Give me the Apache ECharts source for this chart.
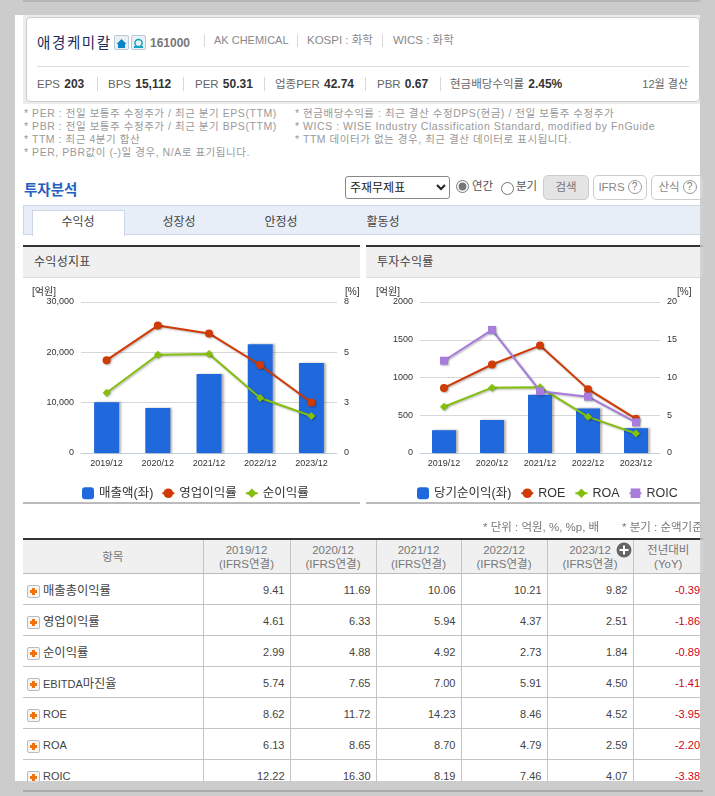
<!DOCTYPE html>
<html lang="ko">
<head>
<meta charset="utf-8">
<title>애경케미칼</title>
<script src="https://cdn.jsdelivr.net/npm/echarts@6/dist/echarts.min.js"></script>
<style>
html,body{margin:0;padding:0;width:715px;height:796px;overflow:hidden;background:#ccc;
  font-family:"Liberation Sans","Noto Sans CJK KR",sans-serif;color:#333}
.a{position:absolute;white-space:nowrap}
.sep{position:absolute;width:1px;background:#d8d8d8}
.k{position:absolute;white-space:nowrap;font-size:11.5px;color:#666;line-height:14px}
.k b{color:#333;font-size:12px;margin-left:1px}
.note{position:absolute;white-space:nowrap;font-size:10.5px;color:#999;line-height:13px;letter-spacing:.55px}
.tab{position:absolute;top:215px;font-size:12px;line-height:14px;width:92px;text-align:center;color:#444}
.phead{position:absolute;top:245px;height:30px;background:#f0f0f0;border-top:2px solid #333;border-bottom:1px solid #ddd}
.phead span{position:absolute;left:11px;top:8px;font-size:12px;letter-spacing:.3px;color:#444;line-height:14px}
.pfoot{position:absolute;top:502px;height:2px;background:#bbb}
.btn{position:absolute;top:175px;height:23px;border:1px solid #ccc;border-radius:5px;background:#fff;
  font-size:11.5px;line-height:23px;color:#888;box-sizing:content-box}
.q{display:inline-block;width:12px;height:12px;line-height:12px;border:1px solid #999;border-radius:50%;
  font-size:10px;text-align:center;color:#777;margin-left:3px;vertical-align:1px}
#tbl{position:absolute;left:23px;top:538px;width:680px;border-collapse:collapse;table-layout:fixed;border-top:2px solid #333;font-size:11px}
#tbl th{height:33px;padding:0;background:#f0f0f0;font-weight:normal;font-size:11.5px;line-height:14px;color:#777;
  border-right:1px solid #c4c4c4;border-bottom:1px solid #bbb;position:relative}
#tbl td{height:30px;padding:2px 5px 0 0;box-sizing:border-box;height:31px;text-align:right;color:#444;border-right:1px solid #c4c4c4;border-bottom:1px solid #c4c4c4}
#tbl th:last-child,#tbl td:last-child{border-right:none}
#tbl td.name{text-align:left;padding-left:20px;position:relative;color:#444}
#tbl td.name span.h{font-size:12.3px}
#tbl td.yoy{color:#d0021b;padding-right:3px}
.plus{position:absolute;left:4px;top:11px;width:11px;height:11px;border:1px solid #bbb;border-radius:2px;background:#f6f6f6}
.plus:before{content:"";position:absolute;left:4px;top:2px;width:3px;height:7px;background:#f0720f}
.plus:after{content:"";position:absolute;left:2px;top:4px;width:7px;height:3px;background:#f0720f}
.ico{position:absolute;top:35px;width:13px;height:13px;border:1px solid #bcc8d4;border-radius:2px;background:#eaf1f6}
</style>
</head>
<body>
<div class="a" style="left:23px;top:0;width:680px;height:2px;background:#b5b5b5"></div>
<div class="a" style="left:15px;top:15px;width:685px;height:766px;background:#fff"></div>

<!-- 기업 개요 -->
<div class="a" style="left:23px;top:15px;width:677px;height:89px;background:#ececec"></div>
<div class="a" style="left:26px;top:17px;width:672px;height:83px;background:#fff;border:1px solid #ccc;border-radius:4px"></div>
<div class="a" style="left:37px;top:34px;font-size:14.5px;line-height:18px;color:#1c2a5c;letter-spacing:1.6px">애경케미칼</div>
<div class="ico" style="left:114px"><svg width="13" height="13" viewBox="0 0 13 13"><path d="M6.5 2 1.5 7H3v4h7V7h1.500z" fill="#0b83c9"/></svg></div>
<div class="ico" style="left:131px"><svg width="13" height="13" viewBox="0 0 13 13"><circle cx="6.5" cy="6" r="3.600" fill="none" stroke="#17a3c4" stroke-width="1.500"/><rect x="2" y="9" width="9" height="2" fill="#17a3c4"/></svg></div>
<div class="a" style="left:150px;top:36px;font-size:12px;font-weight:bold;line-height:14px;color:#777">161000</div>
<div class="sep" style="left:204px;top:34px;height:13px"></div>
<div class="k" style="left:214px;top:33px;color:#888;font-size:11px">AK CHEMICAL</div>
<div class="sep" style="left:297px;top:34px;height:13px"></div>
<div class="k" style="left:307px;top:33px;color:#888">KOSPI : 화학</div>
<div class="sep" style="left:382px;top:34px;height:13px"></div>
<div class="k" style="left:393px;top:33px;color:#888">WICS : 화학</div>
<div class="a" style="left:37px;top:66px;width:652px;height:1px;background:#ddd"></div>
<div id="kpis"></div>
<div class="k" style="right:27px;top:77px;font-size:11px">12월 결산</div>

<!-- 주석 -->
<div id="notes"></div>

<!-- 투자분석 -->
<div class="a" style="left:24px;top:181px;font-size:14.5px;line-height:18px;font-weight:bold;color:#2560c0">투자분석</div>
<select class="a" style="left:345px;top:176px;width:105px;height:23px;font-size:12px;font-family:inherit;background:#fff;border:1px solid #888;border-radius:3px;color:#222"><option>주재무제표</option></select>
<input class="a" type="radio" name="term" checked style="left:456px;top:180px;margin:0;width:13px;height:13px;accent-color:#777">
<div class="a" style="left:472px;top:179px;font-size:11.5px;line-height:14px;color:#555">연간</div>
<input class="a" type="radio" name="term" style="left:501px;top:182px;margin:0;width:13px;height:13px">
<div class="a" style="left:516px;top:179px;font-size:11.5px;line-height:14px;color:#555">분기</div>
<div class="btn" style="left:543px;width:44px;text-align:center;background:#e4e4e4;border-color:#ccc;color:#777">검색</div>
<div class="btn" style="left:593px;width:52px;text-align:center">IFRS<span class="q">?</span></div>
<div class="btn" style="left:651px;width:51px;text-align:center">산식<span class="q">?</span></div>

<div class="a" style="left:23px;top:205px;width:678px;height:28px;background:#e8eef8;border:1px solid #cdd6e6"></div>
<div class="a" style="left:32px;top:210px;width:91px;height:25px;background:#fff;border:1px solid #cdd6e6;border-bottom:none"></div>
<div id="tabs"></div>

<!-- 차트 -->
<div class="phead" style="left:23px;width:337px"><span>수익성지표</span></div>
<div class="phead" style="left:366px;width:337px"><span>투자수익률</span></div>
<div id="chart1" class="a" style="left:15px;top:276px;width:350px;height:226px"></div>
<div id="chart2" class="a" style="left:360px;top:276px;width:345px;height:226px"></div>
<div class="pfoot" style="left:23px;width:337px"></div>
<div class="pfoot" style="left:366px;width:337px"></div>

<!-- 표 -->
<div class="note" style="left:483px;top:521px;color:#777;letter-spacing:0;font-size:11.5px">* 단위 : 억원, %, %p, 배</div>
<div class="note" style="left:622px;top:521px;color:#777;letter-spacing:0;font-size:11.5px">* 분기 : 순액기준</div>
<table id="tbl"></table>
<svg class="a" style="left:616px;top:542px" width="16" height="16" viewBox="0 0 16 16"><circle cx="8" cy="8" r="7.500" fill="#666"/><path d="M7 3.500h2V7h3.500v2H9v3.500H7V9H3.500V7H7z" fill="#fff"/></svg>

<!-- 바깥 여백 -->
<div class="a" style="left:700px;top:0;width:15px;height:796px;background:rgba(204,204,204,.82)"></div>
<div class="a" style="left:15px;top:781px;width:685px;height:15px;background:rgba(204,204,204,.82)"></div>
<div class="a" style="left:23px;top:790px;width:680px;height:2px;background:#aaa"></div>

<script>
var years = ['2019/12', '2020/12', '2021/12', '2022/12', '2023/12'];

// 수익성지표
var sales = [10100, 8950, 15700, 21600, 17900];
var opMargin = [4.61, 6.33, 5.94, 4.37, 2.51];
var netMargin = [2.99, 4.88, 4.92, 2.73, 1.84];

// 투자수익률
var netIncome = [302, 437, 772, 590, 329];
var roe = [8.62, 11.72, 14.23, 8.46, 4.52];
var roa = [6.13, 8.65, 8.70, 4.79, 2.59];
var roic = [12.22, 16.30, 8.19, 7.46, 4.07];

// 표
var rowNames = ['매출총이익률', '영업이익률', '순이익률', 'EBITDA마진율', 'ROE', 'ROA', 'ROIC'];
var rowValues = [
    ['9.41', '11.69', '10.06', '10.21', '9.82', '-0.39'],
    ['4.61', '6.33', '5.94', '4.37', '2.51', '-1.86'],
    ['2.99', '4.88', '4.92', '2.73', '1.84', '-0.89'],
    ['5.74', '7.65', '7.00', '5.91', '4.50', '-1.41'],
    ['8.62', '11.72', '14.23', '8.46', '4.52', '-3.95'],
    ['6.13', '8.65', '8.70', '4.79', '2.59', '-2.20'],
    ['12.22', '16.30', '8.19', '7.46', '4.07', '-3.38']
];

var kpiItems = [
    [37, 'EPS', '203'], [108, 'BPS', '15,112'], [195, 'PER', '50.31'],
    [275, '업종PER', '42.74'], [377, 'PBR', '0.67'], [450, '현금배당수익률', '2.45%']
];
var kpiSeps = [97, 183, 264, 365, 440];
var noteRows = [
    [24, 107, '* PER : 전일 보통주 수정주가 / 최근 분기 EPS(TTM)'],
    [24, 120, '* PBR : 전일 보통주 수정주가 / 최근 분기 BPS(TTM)'],
    [24, 133, '* TTM : 최근 4분기 합산'],
    [24, 146, '* PER, PBR값이 (-)일 경우, N/A로 표기됩니다.'],
    [295, 107, '* 현금배당수익률 : 최근 결산 수정DPS(현금) / 전일 보통주 수정주가'],
    [295, 120, '* WICS : WISE Industry Classification Standard, modified by FnGuide'],
    [295, 133, '* TTM 데이터가 없는 경우, 최근 결산 데이터로 표시됩니다.']
];
var tabNames = [[32, '수익성'], [133, '성장성'], [235, '안정성'], [337, '활동성']];

var html = '';
kpiItems.forEach(function (d) {
    html += '<div class="k" style="left:' + d[0] + 'px;top:77px">' + d[1] + ' <b>' + d[2] + '</b></div>';
});
kpiSeps.forEach(function (x) {
    html += '<div class="sep" style="left:' + x + 'px;top:77px;height:14px"></div>';
});
document.getElementById('kpis').innerHTML = html;

html = '';
noteRows.forEach(function (d) {
    html += '<div class="note" style="left:' + d[0] + 'px;top:' + d[1] + 'px">' + d[2] + '</div>';
});
document.getElementById('notes').innerHTML = html;

html = '';
tabNames.forEach(function (d) {
    html += '<div class="tab" style="left:' + d[0] + 'px">' + d[1] + '</div>';
});
document.getElementById('tabs').innerHTML = html;

var colWidths = [180, 87, 86, 85, 86, 86, 70];
html = '<colgroup>';
colWidths.forEach(function (w) { html += '<col style="width:' + w + 'px">'; });
html += '</colgroup><tr><th>항목</th>';
years.forEach(function (y) { html += '<th>' + y + '<br>(IFRS연결)</th>'; });
html += '<th>전년대비<br>(YoY)</th></tr>';
rowNames.forEach(function (name, i) {
    var label = name.replace(/[가-힣]+/g, '<span class="h">$&</span>');
    html += '<tr><td class="name"><span class="plus"></span>' + label + '</td>';
    rowValues[i].forEach(function (v, j) {
        html += '<td' + (j === 5 ? ' class="yoy"' : '') + '>' + v + '</td>';
    });
    html += '</tr>';
});
document.getElementById('tbl').innerHTML = html;

var FONT = '"Liberation Sans","Noto Sans CJK KR",sans-serif';
var SHADOW = {shadowColor: 'rgba(0,0,0,0.3)', shadowBlur: 2, shadowOffsetX: 1, shadowOffsetY: 1};

function lineSeries(name, data, color, symbol, size) {
    return {
        name: name, type: 'line', yAxisIndex: 1, data: data, symbol: symbol, symbolSize: size,
        z: 3, itemStyle: Object.assign({color: color}, SHADOW),
        lineStyle: Object.assign({color: color, width: 2}, SHADOW)
    };
}

function makeChart(id, opt) {
    var myChart = echarts.init(document.getElementById(id));
    var yStyle = {fontSize: 9, color: '#333', fontFamily: FONT, padding: [4, 0, 0, 0]};
    var option = {
        animation: false,
        textStyle: {fontFamily: FONT},
        grid: {left: opt.left, top: 26, width: opt.width, height: 151},
        legend: {
            left: opt.legendLeft, top: 206, itemWidth: 12, itemHeight: 12, itemGap: opt.legendGap,
            textStyle: {fontSize: 12.5, color: '#333', fontFamily: FONT},
            data: opt.legend
        },
        xAxis: {
            type: 'category', data: years,
            axisLine: {lineStyle: {color: '#c0d0e0'}},
            axisTick: {alignWithLabel: false, length: 4, lineStyle: {color: '#c0d0e0'}},
            axisLabel: {fontSize: 9, color: '#333', margin: 6, fontFamily: FONT}
        },
        yAxis: [{
            type: 'value', min: 0, max: opt.leftMax, interval: opt.leftStep,
            name: '[억원]', nameLocation: 'end', nameGap: 3,
            nameTextStyle: {fontSize: 10, color: '#333', align: 'right', padding: [0, opt.namePad, 0, 0]},
            axisLine: {show: false}, axisTick: {show: false},
            axisLabel: Object.assign({margin: 7, formatter: opt.leftFormat}, yStyle),
            splitLine: {lineStyle: {color: '#d8d8d8'}}
        }, {
            type: 'value', min: 0, max: opt.rightMax, interval: opt.rightStep,
            name: '[%]', nameLocation: 'end', nameGap: 3,
            nameTextStyle: {fontSize: 10, color: '#333', align: 'left', padding: [0, 0, 0, opt.rightPad]},
            axisLine: {show: false}, axisTick: {show: false},
            axisLabel: Object.assign({margin: 7, formatter: function (v) { return Math.round(v); }}, yStyle),
            splitLine: {show: false}
        }],
        series: opt.series
    };
    myChart.setOption(option, true);
}

function barSeries(name, data, width) {
    return {
        name: name, type: 'bar', yAxisIndex: 0, data: data, barWidth: width, z: 2,
        itemStyle: {color: '#2069dc', shadowColor: 'rgba(0,0,0,0.3)', shadowBlur: 2, shadowOffsetX: 2, shadowOffsetY: 0}
    };
}

makeChart('chart1', {
    left: 66, width: 256, leftMax: 30000, leftStep: 10000, rightMax: 7.5, rightStep: 2.5,
    legendLeft: 62, legendGap: 8, namePad: 25, rightPad: 8,
    leftFormat: function (v) { return v.toLocaleString('en-US'); },
    legend: [{name: '매출액(좌)', icon: 'roundRect'}, '영업이익률', '순이익률'],
    series: [
        barSeries('매출액(좌)', sales, 25),
        lineSeries('영업이익률', opMargin, '#cf3a05', 'circle', 8),
        lineSeries('순이익률', netMargin, '#85bf0e', 'diamond', 8)
    ]
});

makeChart('chart2', {
    left: 60, width: 240, leftMax: 2000, leftStep: 500, rightMax: 20, rightStep: 5,
    legendLeft: 52, legendGap: 9, namePad: 20, rightPad: 17,
    leftFormat: function (v) { return v; },
    legend: [{name: '당기순이익(좌)', icon: 'roundRect'}, 'ROE', 'ROA', 'ROIC'],
    series: [
        barSeries('당기순이익(좌)', netIncome, 24),
        lineSeries('ROE', roe, '#cf3a05', 'circle', 8),
        lineSeries('ROA', roa, '#85bf0e', 'diamond', 8),
        lineSeries('ROIC', roic, '#a77cdc', 'rect', 8)
    ]
});
</script>
</body>
</html>
